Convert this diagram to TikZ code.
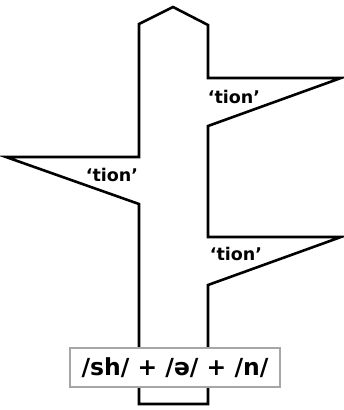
\documentclass[tikz,border=0pt]{standalone}
\usepackage{fontspec}
\setmainfont{DejaVu Sans}
\begin{document}
\begin{tikzpicture}[x=1pt,y=-1pt,
  outline/.style={line width=2.6pt,line join=miter,black},
  lab/.style={font=\fontsize{17.5}{17.5}\selectfont\bfseries,inner sep=0pt},
  formula/.style={draw=gray!70,line width=1.2pt,fill=white,minimum width=210pt,minimum height=39pt,inner sep=0pt,font=\fontsize{23.5}{23.5}\selectfont\bfseries}]
\useasboundingbox (0,0) rectangle (344,410);
\draw[outline] (139,204) -- (6,157) -- (139,157) -- (139,24) -- (173,7) -- (208,25)
  -- (208,78) -- (341,78) -- (208,126) -- (208,237) -- (341,237) -- (208,285)
  -- (208,404) -- (139,404) -- cycle;
\node[lab] (t1) at (234,97) {‘tion’};
\node[lab] (t2) at (112,175) {‘tion’};
\node[lab] (t3) at (236,254) {‘tion’};
\node[formula] (f) at (175,367.5) {/sh/ + /ə/ + /n/};
\end{tikzpicture}
\end{document}
